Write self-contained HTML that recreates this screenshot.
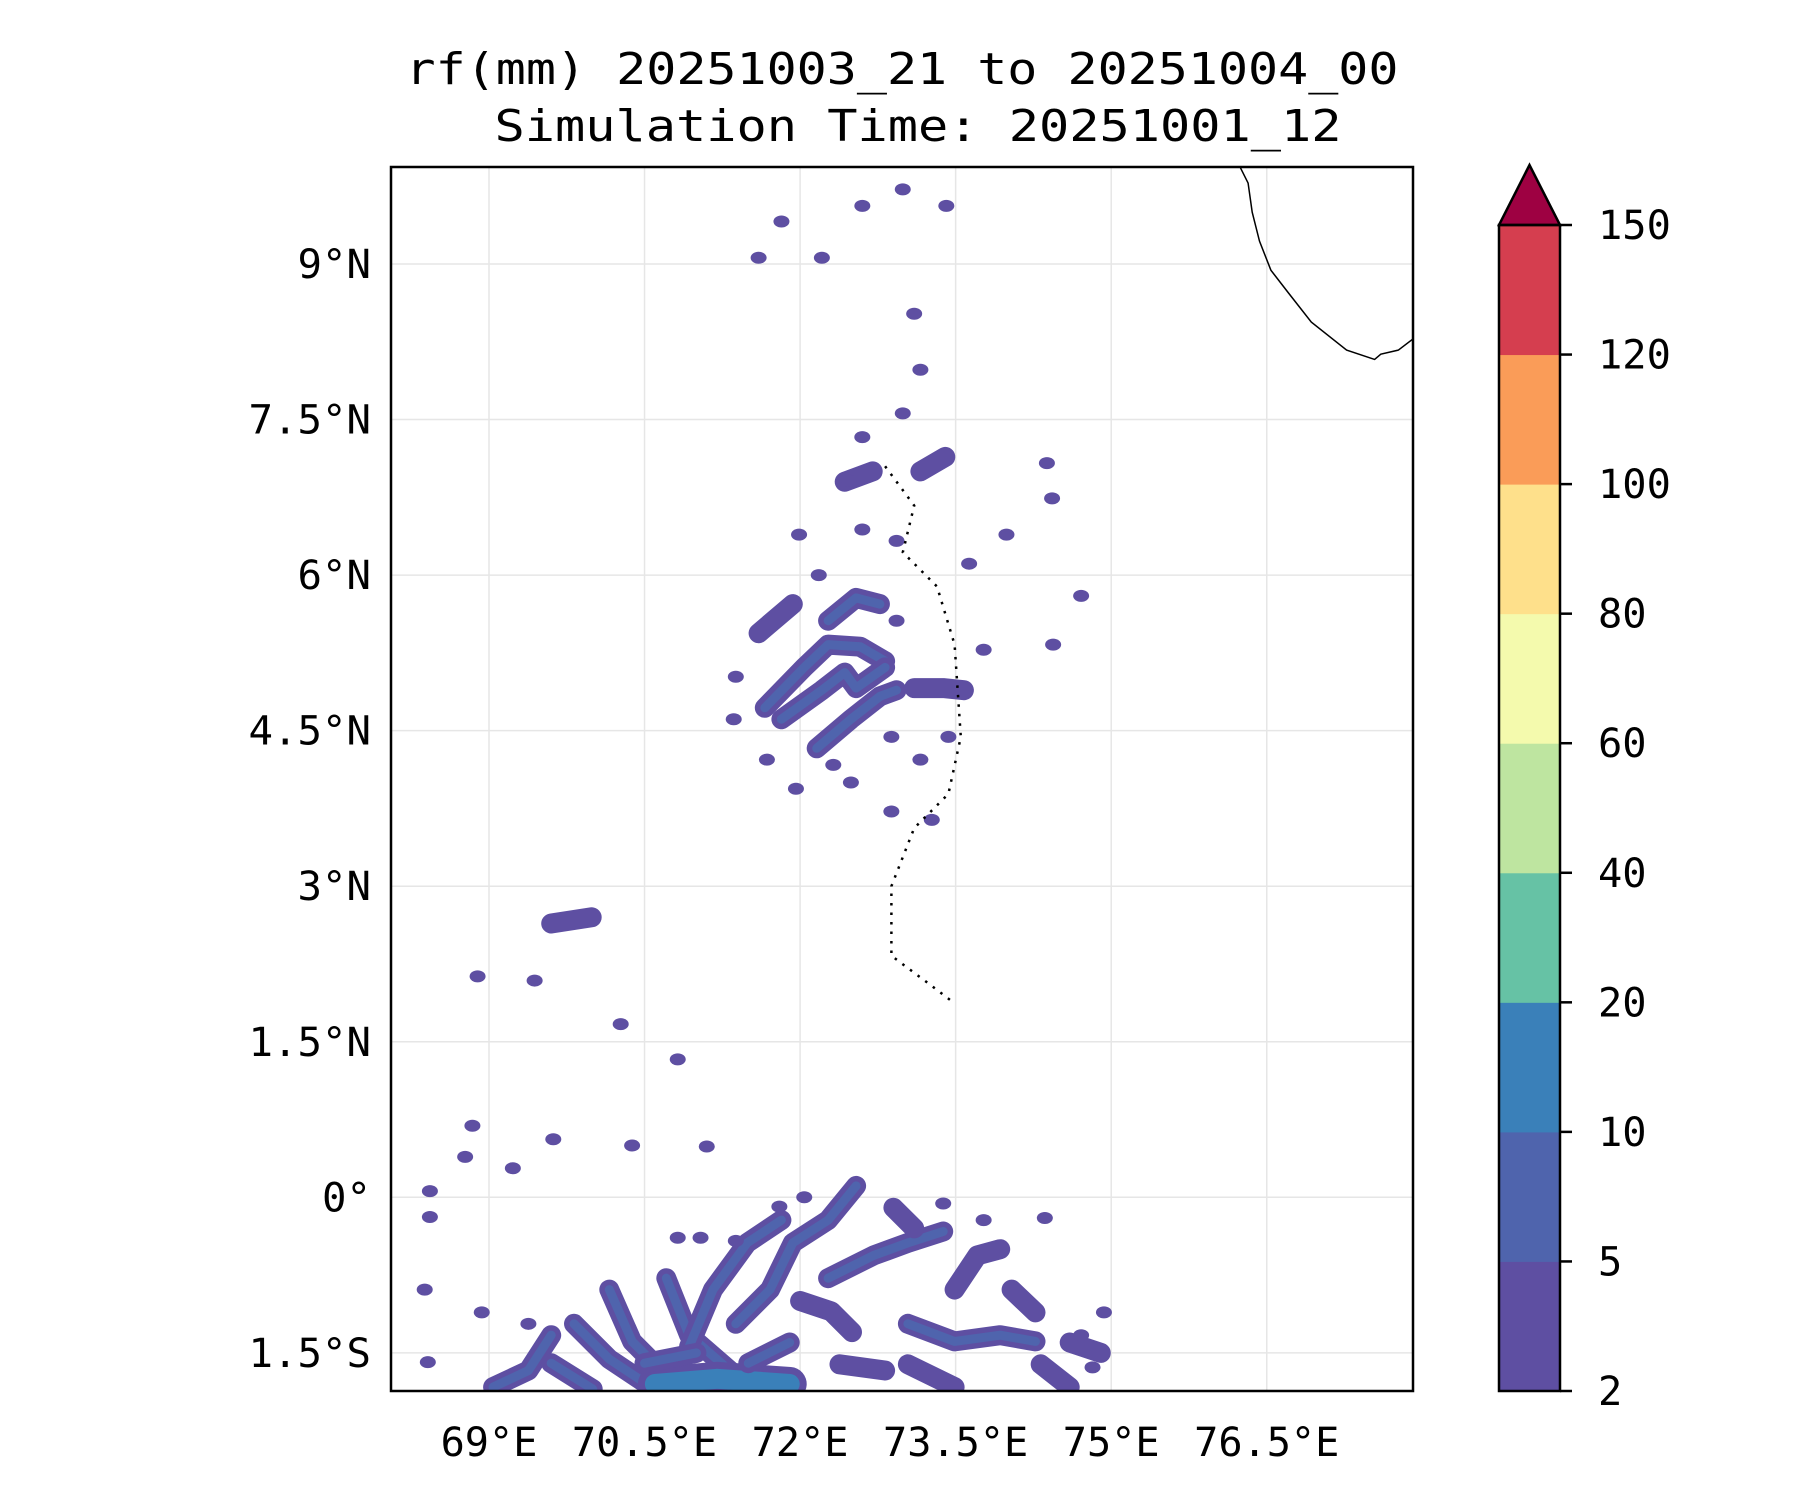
<!DOCTYPE html>
<html><head><meta charset="utf-8"><style>
html,body{margin:0;padding:0;background:#fff}
svg text{font-family:"DejaVu Sans Mono","Liberation Mono",monospace;fill:#000}
</style></head><body>
<svg id="fig" width="1800" height="1500" viewBox="0 0 1800 1500" xmlns="http://www.w3.org/2000/svg">
<rect width="1800" height="1500" fill="#fff"/>
<text x="902" y="84" font-size="44" text-anchor="middle" textLength="993" lengthAdjust="spacingAndGlyphs">rf(mm) 20251003_21 to 20251004_00</text>
<text x="918" y="141" font-size="44" text-anchor="middle" textLength="847" lengthAdjust="spacingAndGlyphs">Simulation Time: 20251001_12</text>
<defs><clipPath id="axclip"><rect x="391" y="167" width="1022" height="1224"/></clipPath></defs>
<g id="grid"></g>
<g id="rain" clip-path="url(#axclip)"></g>
<g id="coast" clip-path="url(#axclip)"></g>
<rect x="391" y="167" width="1022" height="1224" fill="none" stroke="#000" stroke-width="2.5"/>
<g id="labels"></g>
<g id="cbar"></g>
</svg>
<script>
const lonTicks=[69,70.5,72,73.5,75,76.5];
const lonLabels=["69°E","70.5°E","72°E","73.5°E","75°E","76.5°E"];
const latTicks=[9,7.5,6,4.5,3,1.5,0,-1.5];
const latLabels=["9°N","7.5°N","6°N","4.5°N","3°N","1.5°N","0°","1.5°S"];
const levels=[2,5,10,20,40,60,80,100,120,150];
const levelColors=["#5e4fa2","#4f64ad","#3a80b9","#66c2a5","#bee5a0","#f4faad","#fee08b","#fa9c58","#d53e4f"];
const extendColor="#9e0142";
const rainStrokes=[
[[71.66,4.72],[72.04,5.11],[72.27,5.33],[72.58,5.31],[72.82,5.17]],
[[71.82,4.61],[72.21,4.89],[72.43,5.06],[72.54,4.91],[72.82,5.11]],
[[72.16,4.33],[72.49,4.61],[72.77,4.83],[72.93,4.89]],
[[72.27,5.56],[72.54,5.78],[72.77,5.72]],
[[71.6,5.44],[71.93,5.72]],
[[73.1,4.91],[73.38,4.91],[73.58,4.89]],
[[72.43,6.9],[72.7,7.0]],
[[73.16,7.0],[73.4,7.14]],
[[69.6,2.64],[69.99,2.7]],
[[69.04,-1.83],[69.38,-1.67],[69.6,-1.33]],
[[69.82,-1.22],[70.16,-1.56],[70.49,-1.78]],
[[70.16,-0.89],[70.38,-1.39],[70.71,-1.72]],
[[70.71,-0.78],[70.93,-1.33],[71.38,-1.72]],
[[70.93,-1.44],[71.16,-0.89],[71.49,-0.44],[71.82,-0.22]],
[[71.38,-1.22],[71.71,-0.89],[71.93,-0.44],[72.27,-0.22],[72.54,0.11]],
[[72.27,-0.78],[72.71,-0.56],[73.04,-0.44],[73.38,-0.33]],
[[73.04,-1.22],[73.49,-1.39],[73.93,-1.33],[74.27,-1.39]],
[[73.49,-0.89],[73.71,-0.56],[73.93,-0.5]],
[[74.04,-0.89],[74.27,-1.11]],
[[74.32,-1.61],[74.6,-1.83]],
[[72.38,-1.61],[72.82,-1.67]],
[[73.04,-1.61],[73.49,-1.83]],
[[72.0,-1.0],[72.3,-1.1],[72.5,-1.3]],
[[70.6,-1.8],[71.2,-1.75],[71.9,-1.8]],
[[69.6,-1.6],[70.0,-1.85]],
[[71.5,-1.6],[71.9,-1.4]],
[[70.5,-1.6],[71.0,-1.5]],
[[72.9,-0.1],[73.1,-0.3]],
[[74.6,-1.4],[74.9,-1.5]]
];
const rainStrokeLevel=[1,1,1,1,0,0,0,0,0,1,1,1,1,1,1,1,1,0,0,0,0,0,0,2,1,1,1,0,0];
const rainBlobs=[[68.89,2.13],[69.44,2.09],[68.84,0.69],[69.62,0.56],[70.38,0.5],[68.77,0.39],[69.23,0.28],[70.82,1.33],[68.43,0.06],[68.43,-0.19],[68.38,-0.89],[68.93,-1.11],[69.38,-1.22],[68.41,-1.59],[71.04,-0.39],[71.1,0.49],[70.27,1.67],[71.6,9.06],[72.21,9.06],[71.82,9.41],[72.99,9.72],[73.41,9.56],[72.6,9.56],[73.1,8.52],[73.16,7.98],[72.6,7.33],[72.99,7.56],[74.43,6.74],[74.38,7.08],[73.99,6.39],[73.63,6.11],[74.71,5.8],[74.44,5.33],[73.77,5.28],[71.36,4.61],[71.38,5.02],[71.68,4.22],[71.96,3.94],[74.36,-0.2],[74.93,-1.11],[74.82,-1.64],[74.71,-1.33],[73.77,-0.22],[73.38,-0.06],[72.04,0.0],[71.8,-0.09],[71.38,-0.42],[70.82,-0.39],[72.88,3.72],[73.27,3.64],[72.18,6.0],[72.6,6.44],[71.99,6.39],[72.47,6.91],[72.93,6.33],[72.93,5.56],[73.43,4.44],[73.16,4.22],[72.88,4.44],[72.49,4.0],[72.32,4.17]];
const coastIndia=[[76.24,9.94],[76.32,9.78],[76.36,9.5],[76.43,9.22],[76.54,8.94],[76.71,8.72],[76.93,8.44],[77.27,8.17],[77.54,8.08],[77.6,8.13],[77.77,8.17],[77.94,8.3]];
const maldives=[[72.82,7.05],[73.1,6.67],[72.99,6.22],[73.32,5.89],[73.49,5.33],[73.55,4.44],[73.43,3.89],[73.1,3.56],[72.88,3.0],[72.88,2.33],[73.32,2.0],[73.45,1.9]];

const NS="http://www.w3.org/2000/svg";
const X0=489,Y0=264,K=103.7;
function xScale(lon){return X0+(lon-69)*K;}
function yScale(lat){return Y0+(9-lat)*K;}
function cbY(i){return 1391-i*(1391-225)/(levels.length-1);}
function mk(tag,attrs,parent){const e=document.createElementNS(NS,tag);for(const k in attrs)e.setAttribute(k,attrs[k]);parent.appendChild(e);return e;}
const grid=document.getElementById('grid'),rain=document.getElementById('rain'),coast=document.getElementById('coast'),labels=document.getElementById('labels'),cbar=document.getElementById('cbar');

lonTicks.forEach((v,i)=>{
  const l=mk('line',{x1:xScale(v),x2:xScale(v),y1:167,y2:1391,stroke:'#e6e6e6','stroke-width':1.5},grid);
  
  
  const t=mk('text',{x:xScale(v),y:1456,'font-size':40,'text-anchor':'middle',textLength:lonLabels[i].length*24.2,lengthAdjust:'spacingAndGlyphs'},labels);
  t.textContent=lonLabels[i];
  
  
});
latTicks.forEach((v,i)=>{
  const l=mk('line',{x1:391,x2:1413,y1:yScale(v),y2:yScale(v),stroke:'#e6e6e6','stroke-width':1.5},grid);
  
  
  const t=mk('text',{x:371,y:yScale(v)+14,'font-size':40,'text-anchor':'end',textLength:latLabels[i].length*24.5,lengthAdjust:'spacingAndGlyphs'},labels);
  t.textContent=latLabels[i];
  
  
});
function pts(a){return a.map(p=>xScale(p[0]).toFixed(1)+','+yScale(p[1]).toFixed(1)).join(' ');}
rainStrokes.forEach((s,i)=>{
  const lv=rainStrokeLevel[i];
  const w=lv===2?34:20;
  const p=mk('polyline',{points:pts(s),fill:'none',stroke:levelColors[0],'stroke-width':w,'stroke-linejoin':'round','stroke-linecap':'round'},rain);
  
  
  if(lv>=1){
    const q=mk('polyline',{points:pts(s),fill:'none',stroke:levelColors[lv===2?2:1],'stroke-width':lv===2?20:9,'stroke-linejoin':'round','stroke-linecap':'round'},rain);
    
    
  }
});
rainBlobs.forEach(b=>{
  const e=mk('ellipse',{cx:xScale(b[0]),cy:yScale(b[1]),rx:8,ry:6,fill:levelColors[0]},rain);
  
  
});
const c=mk('polyline',{points:pts(coastIndia),fill:'none',stroke:'#000','stroke-width':1.5},coast);


const m=mk('polyline',{points:pts(maldives),fill:'none',stroke:'#000','stroke-width':2.5,'stroke-dasharray':'2.5 7'},coast);



const CX0=1499,CX1=1560;
levelColors.forEach((col,i)=>{
  const r=mk('rect',{x:CX0,y:cbY(i+1),width:CX1-CX0,height:cbY(i)-cbY(i+1)+0.5,fill:col},cbar);
  
  
});
const tri=mk('polygon',{points:`${CX0},${cbY(levels.length-1)} ${CX1},${cbY(levels.length-1)} ${(CX0+CX1)/2},165`,fill:extendColor,stroke:'#000','stroke-width':2.5},cbar);


const fr=mk('rect',{x:CX0,y:cbY(levels.length-1),width:CX1-CX0,height:cbY(0)-cbY(levels.length-1),fill:'none',stroke:'#000','stroke-width':2.5},cbar);


levels.forEach((v,i)=>{
  const tk=mk('line',{x1:CX1,x2:CX1+12,y1:cbY(i),y2:cbY(i),stroke:'#000','stroke-width':2.5},cbar);
  
  
  const s=String(v);
  const t=mk('text',{x:1598,y:cbY(i)+14,'font-size':40,textLength:s.length*24.3,lengthAdjust:'spacingAndGlyphs'},cbar);
  t.textContent=s;
  
  
});
</script>
</body></html>
